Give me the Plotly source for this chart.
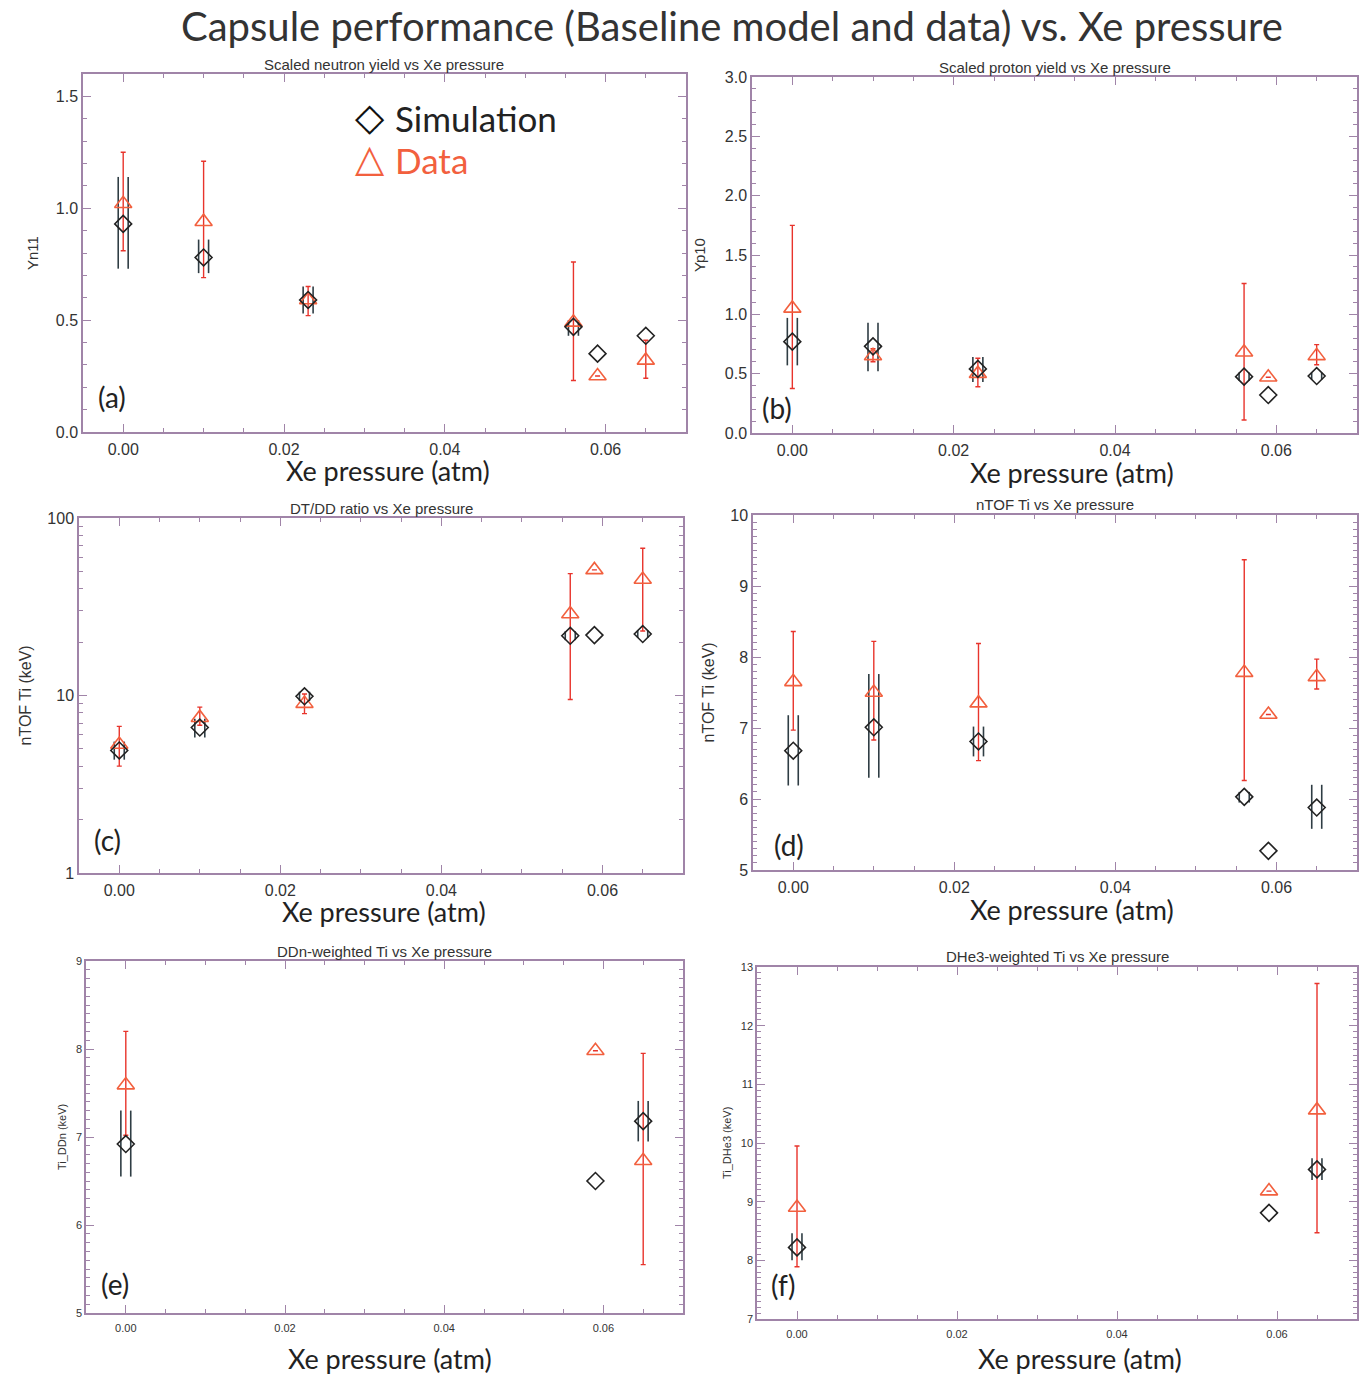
import plotly.graph_objects as go

# ---------------- data ----------------
x6 = [0.0, 0.010, 0.023, 0.056, 0.059, 0.065]
x3 = [0.0, 0.059, 0.065]

# (a) scaled neutron yield
a_sim = [0.93, 0.78, 0.59, 0.47, 0.35, 0.43]
a_sim_hi = [1.14, 0.86, 0.65, 0.50, None, None]
a_sim_lo = [0.73, 0.71, 0.53, 0.43, None, None]
a_dat = [1.02, 0.94, 0.59, 0.49, 0.25, 0.32]
a_dat_hi = [1.25, 1.21, 0.65, 0.76, None, 0.41]
a_dat_lo = [0.81, 0.69, 0.52, 0.23, None, 0.24]

# (b) scaled proton yield
b_sim = [0.77, 0.73, 0.54, 0.475, 0.32, 0.48]
b_sim_hi = [0.97, 0.93, 0.64, 0.51, None, 0.51]
b_sim_lo = [0.57, 0.52, 0.43, 0.44, None, 0.45]
b_dat = [1.05, 0.65, 0.50, 0.68, 0.47, 0.65]
b_dat_hi = [1.75, 0.71, 0.63, 1.26, None, 0.745]
b_dat_lo = [0.375, 0.60, 0.39, 0.11, None, 0.575]

# (c) DT/DD ratio
c_sim = [4.9, 6.6, 9.9, 21.7, 21.9, 22.2]
c_sim_hi = [5.5, 7.4, 10.5, 23.0, None, 23.3]
c_sim_lo = [4.35, 5.8, 9.3, 20.5, None, 21.1]
c_dat = [5.3, 7.5, 9.0, 28.8, 51.0, 45.0]
c_dat_hi = [6.7, 8.6, 10.2, 48.6, None, 67.5]
c_dat_lo = [4.0, 6.8, 7.9, 9.5, None, 23.1]

# (d) nTOF Ti
d_sim = [6.68, 7.01, 6.81, 6.03, 5.27, 5.88]
d_sim_hi = [7.18, 7.76, 7.02, 6.10, None, 6.20]
d_sim_lo = [6.19, 6.30, 6.60, 5.95, None, 5.58]
d_dat = [7.65, 7.50, 7.35, 7.78, 7.19, 7.72]
d_dat_hi = [8.36, 8.22, 8.19, 9.37, None, 7.97]
d_dat_lo = [6.97, 6.83, 6.54, 6.26, None, 7.55]

# (e) DDn-weighted Ti
e_sim = [6.92, 6.50, 7.18]
e_sim_hi = [7.30, None, 7.41]
e_sim_lo = [6.55, None, 6.95]
e_dat = [7.59, 7.98, 6.73]
e_dat_hi = [8.20, None, 7.95]
e_dat_lo = [7.02, None, 5.55]

# (f) DHe3-weighted Ti
f_sim = [8.22, 8.81, 9.55]
f_sim_hi = [8.46, None, 9.74]
f_sim_lo = [8.00, None, 9.37]
f_dat = [8.90, 9.18, 10.56]
f_dat_hi = [9.95, None, 12.72]
f_dat_lo = [7.89, None, 8.47]

x_ticks = [0.00, 0.02, 0.04, 0.06]
x_ticklabels = ["0.00", "0.02", "0.04", "0.06"]

# ---------------- layout helpers ----------------
W, H = 1362, 1375
def px(xp):
    return xp / W
def py(yp):
    return 1 - yp / H

SIM_C = "#222222"
SIM_ERR = "#2f3d44"
DAT_C = "#f2603e"
DAT_ERR = "#e8342c"
FRAME = "#a084a8"
TXT = "#333333"

panels = [
    dict(x=x6, s=a_sim, sh=a_sim_hi, sl=a_sim_lo, d=a_dat, dh=a_dat_hi, dl=a_dat_lo,
         box=(83, 686, 74, 432), yr=[0, 1.6], yt="linear", dtick=0.5, minor=0.1, tfs=16, tso=2,
         title="Scaled neutron yield vs Xe pressure", ytitle="Yn11", ytx=33, ytfs=15,
         lab="(a)", labpos=(112, 397), xtpos=(388, 471)),
    dict(x=x6, s=b_sim, sh=b_sim_hi, sl=b_sim_lo, d=b_dat, dh=b_dat_hi, dl=b_dat_lo,
         box=(752, 1357, 77, 433), yr=[0, 3.0], yt="linear", dtick=0.5, minor=0.1, tfs=16, tso=2,
         title="Scaled proton yield vs Xe pressure", ytitle="Yp10", ytx=700, ytfs=15,
         lab="(b)", labpos=(777, 408), xtpos=(1072, 473)),
    dict(x=x6, s=c_sim, sh=c_sim_hi, sl=c_sim_lo, d=c_dat, dh=c_dat_hi, dl=c_dat_lo,
         box=(79, 683, 518, 873), yr=[0, 2], yt="log", dtick=None, minor=None, tfs=16, tso=2,
         title="DT/DD ratio vs Xe pressure", ytitle="nTOF Ti (keV)", ytx=25, ytfs=16,
         lab="(c)", labpos=(107, 840), xtpos=(384, 911)),
    dict(x=x6, s=d_sim, sh=d_sim_hi, sl=d_sim_lo, d=d_dat, dh=d_dat_hi, dl=d_dat_lo,
         box=(753, 1357, 515, 870), yr=[5, 10], yt="linear", dtick=1, minor=0.1, tfs=16, tso=2,
         title="nTOF Ti vs Xe pressure", ytitle="nTOF Ti (keV)", ytx=708, ytfs=16,
         lab="(d)", labpos=(789, 845), xtpos=(1072, 909)),
    dict(x=x3, s=e_sim, sh=e_sim_hi, sl=e_sim_lo, d=e_dat, dh=e_dat_hi, dl=e_dat_lo,
         box=(86, 683, 961, 1313), yr=[5, 9], yt="linear", dtick=1, minor=0.1, tfs=11, tso=4,
         title="DDn-weighted Ti vs Xe pressure", ytitle="Ti_DDn (keV)", ytx=62, ytfs=11,
         lab="(e)", labpos=(115, 1284), xtpos=(390, 1358)),
    dict(x=x3, s=f_sim, sh=f_sim_hi, sl=f_sim_lo, d=f_dat, dh=f_dat_hi, dl=f_dat_lo,
         box=(757, 1357, 967, 1319), yr=[7, 13], yt="linear", dtick=1, minor=0.1, tfs=11, tso=4,
         title="DHe3-weighted Ti vs Xe pressure", ytitle="Ti_DHe3 (keV)", ytx=727, ytfs=11,
         lab="(f)", labpos=(783, 1285), xtpos=(1080, 1358)),
]

fig = go.Figure()
annotations = []
DX = 0.00062  # horizontal offset of the twin simulation error lines


def ann(xp, yp, text, size, color, family="Lato, Open Sans", xanchor="center", angle=0):
    return dict(x=px(xp), y=py(yp), xref="paper", yref="paper", text=text, showarrow=False,
                xanchor=xanchor, yanchor="middle", textangle=angle,
                font=dict(family=family, size=size, color=color))


for i, p in enumerate(panels, start=1):
    xa = "x" if i == 1 else f"x{i}"
    ya = "y" if i == 1 else f"y{i}"
    sim_up = [(h - v) if h is not None else None for h, v in zip(p["sh"], p["s"])]
    sim_dn = [(v - l) if l is not None else None for l, v in zip(p["sl"], p["s"])]
    dat_up = [(h - v) if h is not None else None for h, v in zip(p["dh"], p["d"])]
    dat_dn = [(v - l) if l is not None else None for l, v in zip(p["dl"], p["d"])]

    for sgn in (-1, 1):
        fig.add_trace(go.Scatter(
            x=[xx + sgn * DX for xx in p["x"]], y=p["s"], mode="markers",
            marker=dict(size=1, opacity=0), showlegend=False, hoverinfo="skip",
            error_y=dict(type="data", symmetric=False, array=sim_up, arrayminus=sim_dn,
                         color=SIM_ERR, thickness=1.6, width=0),
            xaxis=xa, yaxis=ya))
    fig.add_trace(go.Scatter(
        x=p["x"], y=p["d"], mode="markers", name="Data", showlegend=False,
        marker=dict(symbol="triangle-up-open", size=15, color=DAT_C, line=dict(width=1.6, color=DAT_C)),
        error_y=dict(type="data", symmetric=False, array=dat_up, arrayminus=dat_dn,
                     color=DAT_ERR, thickness=1.4, width=2.5),
        xaxis=xa, yaxis=ya))
    fig.add_trace(go.Scatter(
        x=p["x"], y=p["s"], mode="markers", name="Simulation", showlegend=False,
        marker=dict(symbol="diamond-open", size=13, color=SIM_C, line=dict(width=1.6, color=SIM_C)),
        xaxis=xa, yaxis=ya))

    l, r, t, b = p["box"]
    xkey = "xaxis" if i == 1 else f"xaxis{i}"
    ykey = "yaxis" if i == 1 else f"yaxis{i}"
    xaxis = dict(domain=[px(l), px(r)], range=[-0.005, 0.07], anchor=ya,
                 tickmode="array", tickvals=x_ticks, ticktext=x_ticklabels,
                 ticks="inside", ticklen=8, tickcolor=FRAME, showline=True, linecolor=FRAME,
                 linewidth=1.5, mirror="ticks", showgrid=False, zeroline=False,
                 ticklabelstandoff=p["tso"],
                 tickfont=dict(family="Liberation Sans, Arial", size=p["tfs"], color=TXT),
                 minor=dict(dtick=0.005, tick0=0, ticks="inside", ticklen=4, tickcolor=FRAME, showgrid=False))
    yaxis = dict(domain=[py(b), py(t)], range=p["yr"], type=p["yt"], anchor=xa,
                 ticks="inside", ticklen=8, tickcolor=FRAME, showline=True, linecolor=FRAME,
                 linewidth=1.5, mirror="ticks", showgrid=False, zeroline=False,
                 tickfont=dict(family="Liberation Sans, Arial", size=p["tfs"], color=TXT))
    if p["yt"] == "log":
        yaxis.update(tickvals=[1, 10, 100], ticktext=["1", "10", "100"],
                     minor=dict(tickvals=[2, 3, 4, 5, 6, 7, 8, 9, 20, 30, 40, 50, 60, 70, 80, 90],
                                ticks="inside", ticklen=4, tickcolor=FRAME, showgrid=False))
    else:
        yaxis.update(dtick=p["dtick"], tick0=p["yr"][0], tickformat=".1f" if p["dtick"] < 1 else "d",
                     minor=dict(dtick=p["minor"], ticks="inside", ticklen=4, tickcolor=FRAME, showgrid=False))
    fig.update_layout({xkey: xaxis, ykey: yaxis})

    annotations.append(ann((l + r) / 2, t - 10, p["title"], 15, TXT, family="Liberation Sans, Arial"))
    annotations.append(ann(p["ytx"], (t + b) / 2, p["ytitle"], p["ytfs"], TXT,
                           family="Liberation Sans, Arial", angle=-90))
    annotations.append(ann(p["xtpos"][0], p["xtpos"][1], "Xe pressure (atm)", 27, "#222222"))
    annotations.append(ann(p["labpos"][0], p["labpos"][1], p["lab"], 28, "#222222"))

annotations.append(ann(732, 26, "Capsule performance (Baseline model and data) vs. Xe pressure", 40, "#333333"))
annotations.append(ann(370, 117, "◇", 38, "#111111", family="DejaVu Sans"))
annotations.append(ann(393, 118, "Simulation", 35, "#222222", xanchor="left"))
annotations.append(ann(370, 158, "△", 38, DAT_C, family="DejaVu Sans"))
annotations.append(ann(393, 160, "Data", 35, DAT_C, xanchor="left"))

fig.update_layout(width=W, height=H, margin=dict(l=0, r=0, t=0, b=0, autoexpand=False),
                  paper_bgcolor="white", plot_bgcolor="white",
                  annotations=annotations, showlegend=False)

fig.write_html("out.html", config={"displayModeBar": False},
               post_script="document.body.style.margin='0';document.body.style.overflow='hidden';")
